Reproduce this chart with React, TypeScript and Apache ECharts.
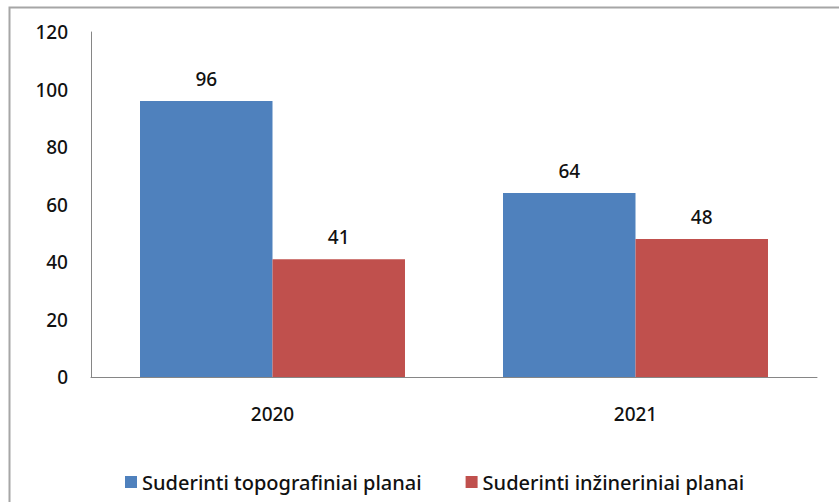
import React, { useEffect, useRef } from "react";
import * as echarts from "echarts";

const categories = ["2020", "2021"];
const seriesNames = ["Suderinti topografiniai planai", "Suderinti inžineriniai planai"];
const topoValues = [96, 64];
const inzValues = [41, 48];
const yTicks = { min: 0, max: 120, interval: 20 };

const FONT = "'Noto Sans', sans-serif";
const TXT = { fontFamily: FONT, fontSize: 19, color: "#111", fontWeight: 500 };

export default function App() {
  const ref = useRef<HTMLDivElement>(null);
  useEffect(() => {
    if (!ref.current) return;
    const chart = echarts.init(ref.current, null, { renderer: "svg" });
    chart.setOption({
      animation: false,
      backgroundColor: "#ffffff",
      textStyle: { fontFamily: FONT },
      graphic: [
        {
          type: "rect",
          shape: { x: 9.5, y: 7.5, width: 840, height: 500 },
          style: { fill: "none", stroke: "#a6a6a6", lineWidth: 2 },
          silent: true,
        },
      ],
      grid: { left: 91, top: 32, right: 22, bottom: 125, containLabel: false },
      legend: {
        left: 120,
        top: 467,
        itemWidth: 12,
        itemHeight: 12,
        itemGap: 44,
        icon: "rect",
        textStyle: { fontFamily: FONT, fontSize: 20, color: "#111", fontWeight: 500 },
        data: seriesNames,
      },
      xAxis: {
        type: "category",
        data: categories,
        axisLine: { show: true, lineStyle: { color: "#868686", width: 1 } },
        axisTick: { show: false },
        axisLabel: { ...TXT, margin: 27 },
      },
      yAxis: {
        type: "value",
        min: yTicks.min,
        max: yTicks.max,
        interval: yTicks.interval,
        axisLine: { show: true, lineStyle: { color: "#868686", width: 1 } },
        axisTick: { show: false },
        splitLine: { show: false },
        axisLabel: { ...TXT, margin: 23 },
      },
      series: [
        {
          name: seriesNames[0],
          type: "bar",
          data: topoValues,
          barGap: "0%",
          barCategoryGap: "27%",
          itemStyle: { color: "#4F81BD" },
          label: { show: true, position: "top", distance: 13, ...TXT },
        },
        {
          name: seriesNames[1],
          type: "bar",
          data: inzValues,
          barGap: "0%",
          barCategoryGap: "27%",
          itemStyle: { color: "#C0504D" },
          label: { show: true, position: "top", distance: 13, ...TXT },
        },
      ],
    });
    return () => chart.dispose();
  }, []);
  return (
    <div
      ref={ref}
      style={{ position: "absolute", left: 0, top: 0, width: 839, height: 502 }}
    />
  );
}
